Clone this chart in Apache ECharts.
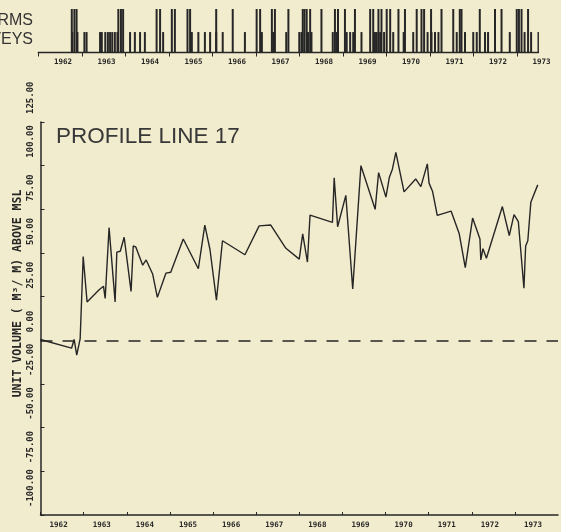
<!DOCTYPE html>
<html><head><meta charset="utf-8">
<script src="https://cdn.jsdelivr.net/npm/echarts@6/dist/echarts.min.js"></script>
<style>html,body{margin:0;padding:0;background:#f2ecce;}#c{width:561px;height:532px;}</style>
</head><body><div id="c"></div>
<script>
const yearTicks = [1962,1963,1964,1965,1966,1967,1968,1969,1970,1971,1972,1973];
const yearLabels = ['1962','1963','1964','1965','1966','1967','1968','1969','1970','1971','1972','1973'];
const yTicks = [-100,-75,-50,-25,0,25,50,75,100,125];
const rowLabels = ['STORMS','SURVEYS'];
const chartTitle = 'PROFILE LINE 17';
const yAxisTitle = 'UNIT VOLUME ( M\u00B3/ M) ABOVE MSL';

const profileDates = [1962.00,1962.72,1962.78,1962.84,1962.92,1962.99,1963.08,1963.36,1963.46,1963.50,
  1963.59,1963.73,1963.77,1963.85,1963.94,1964.10,1964.15,1964.21,1964.37,1964.45,
  1964.60,1964.71,1964.91,1965.02,1965.31,1965.66,1965.81,1965.93,1966.08,1966.22,
  1966.74,1967.07,1967.34,1967.69,1968.00,1968.08,1968.19,1968.25,1968.77,1968.81,
  1968.89,1969.08,1969.24,1969.43,1969.76,1969.84,1970.01,1970.09,1970.16,1970.24,
  1970.43,1970.70,1970.82,1970.97,1971.01,1971.09,1971.20,1971.52,1971.71,1971.85,
  1972.02,1972.19,1972.21,1972.26,1972.34,1972.71,1972.87,1972.98,1973.08,1973.21,
  1973.25,1973.30,1973.37,1973.53];
const profileVolumes = [0.5,-4.5,0.5,-8.5,1,48,22,29,31,24,
  64.5,22,50.5,51,59,28,54,53.5,43,46,
  38,24.6,38.5,39,58,41,66,52,23,57,
  49,65.5,66,52.7,46.5,61,44.8,71.7,67.5,93,
  65,83,29.4,100,75,96,82,93.4,98,107.6,
  85,92.4,88,101,90,85.4,71.5,74,61,41.6,
  70,58,46,52.5,47,76.6,60,72,68,29.8,
  54,57,79,89];

const stormDates = [1962.77,1962.83,1962.88,1963.84,1963.90,1963.95,1964.72,1964.80,1965.07,1965.14,
  1965.43,1965.49,1966.09,1966.47,1967.02,1967.10,1967.37,1967.44,1967.75,1968.08,
  1968.12,1968.17,1968.25,1968.51,1968.82,1968.89,1969.05,1969.28,1969.63,1969.70,
  1969.82,1969.89,1970.01,1970.09,1970.28,1970.43,1970.70,1970.81,1970.87,1971.03,
  1971.27,1971.54,1971.69,1971.73,1972.15,1972.50,1972.65,1973.00,1973.05,1973.11,1973.26];
const surveyDates = [1962.78,1962.90,1963.06,1963.11,1963.42,1963.46,1963.54,1963.60,1963.65,1963.70,
  1963.76,1963.82,1964.11,1964.22,1964.34,1964.45,1964.87,1965.53,1965.68,1965.83,
  1965.95,1966.09,1966.24,1966.75,1967.14,1967.40,1967.70,1968.00,1968.05,1968.20,
  1968.28,1968.77,1968.86,1969.09,1969.17,1969.24,1969.43,1969.74,1969.78,1969.86,
  1969.95,1970.16,1970.40,1970.62,1970.95,1971.04,1971.12,1971.20,1971.62,1971.81,
  1972.00,1972.08,1972.27,1972.34,1972.84,1973.18,1973.33,1973.50];
const stormHeight = 1;
const surveyHeight = 0.47;

const ink = '#262626';
const xTickFont = {fontFamily:'DejaVu Sans Mono', fontWeight:'bold', fontSize:7.5, color:ink};
const yTickFont = {fontFamily:'DejaVu Sans Mono', fontWeight:'bold', fontSize:9, color:ink};
const yearFmt = v => yearLabels[yearTicks.indexOf(Math.floor(v + 1e-6))] || '';

const chart = echarts.init(document.getElementById('c'), null, {renderer:'canvas'});
chart.setOption({
  backgroundColor:'#f2ecce',
  animation:false,
  title:{text:chartTitle, left:56, top:125, padding:0,
    textStyle:{fontFamily:'Liberation Sans', fontSize:22.5, fontWeight:'normal', color:'#383838'}},
  graphic:[
    {type:'text', x:33, y:21, style:{text:rowLabels[0], align:'right', verticalAlign:'middle', textAlign:'right', textVerticalAlign:'middle', fontFamily:'Liberation Sans', fontSize:16, fill:'#333'}},
    {type:'text', x:33, y:40, style:{text:rowLabels[1], align:'right', verticalAlign:'middle', textAlign:'right', textVerticalAlign:'middle', fontFamily:'Liberation Sans', fontSize:16, fill:'#333'}}
  ],
  grid:[
    {left:38.3, right:22.5, top:9, height:43.5},
    {left:40.5, right:3, top:122, bottom:17}
  ],
  xAxis:[
    {gridIndex:0, type:'value', min:1962, max:1973.5,
      axisLine:{show:true, onZero:false, lineStyle:{color:ink, width:1.3}},
      axisTick:{show:true, inside:false, length:4, customValues:yearTicks, lineStyle:{color:ink, width:1}},
      axisLabel:{customValues:yearTicks.map(y=>y+0.5), formatter:yearFmt, margin:6, padding:[0,0,0,6], ...xTickFont},
      splitLine:{show:false}},
    {gridIndex:1, type:'value', min:1962, max:1974,
      axisLine:{show:true, onZero:false, lineStyle:{color:ink, width:1.5}},
      axisTick:{show:true, inside:true, length:3, customValues:yearTicks, lineStyle:{color:ink, width:1}},
      axisLabel:{customValues:yearTicks.map(y=>y+0.42), formatter:yearFmt, margin:6, ...xTickFont},
      splitLine:{show:false}}
  ],
  yAxis:[
    {gridIndex:0, type:'value', min:0, max:1, show:false},
    {gridIndex:1, type:'value', min:yTicks[0], max:yTicks[yTicks.length-1], interval:25,
      axisLine:{show:true, onZero:false, lineStyle:{color:ink, width:1.5}},
      axisTick:{show:true, inside:true, length:4, lineStyle:{color:ink, width:1}},
      axisLabel:{rotate:90, align:'left', verticalAlign:'middle', margin:10, padding:[0,0,0,8],
        formatter:v=>v.toFixed(2), ...yTickFont},
      splitLine:{show:false},
      name:yAxisTitle, nameLocation:'middle', nameRotate:90, nameGap:16, nameMoveOverlap:false,
      nameTextStyle:{fontFamily:'DejaVu Sans Mono', fontSize:11.5, fontWeight:'bold', color:ink, padding:[0,0,0,50]}}
  ],
  series:[
    {type:'bar', name:'Storms', xAxisIndex:0, yAxisIndex:0, barWidth:2, barGap:'-100%',
      data:stormDates.map(d=>[d, stormHeight]), itemStyle:{color:ink}},
    {type:'bar', name:'Surveys', xAxisIndex:0, yAxisIndex:0, barWidth:2, barGap:'-100%',
      data:surveyDates.map(d=>[d, surveyHeight]), itemStyle:{color:ink}},
    {type:'line', name:'Profile 17', xAxisIndex:1, yAxisIndex:1, symbol:'none',
      data:profileDates.map((d,i)=>[d, profileVolumes[i]]),
      lineStyle:{color:ink, width:1.4},
      markLine:{silent:true, symbol:'none', label:{show:false},
        lineStyle:{type:[12,10], color:ink, width:1.5}, data:[{yAxis:0}]}}
  ]
});
</script></body></html>
